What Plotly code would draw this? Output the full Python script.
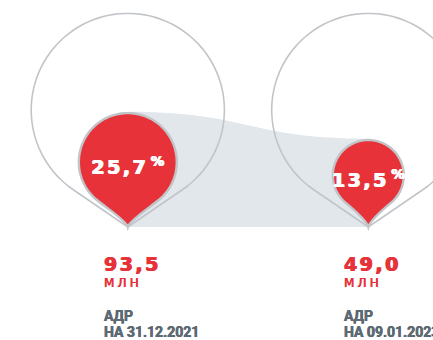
import numpy as np
import plotly.graph_objects as go

# ADR data: two reporting dates, ADR volume (mln) and share of capital (%)
periods = ["31.12.2021", "09.01.2023"]
adr_mln = [93.5, 49.0]
share_pct = [25.7, 13.5]

W, H = 433, 340
X0, STEP = 127.8, 240.5      # horizontal position of the first pin and spacing
TIP_Y = 227                  # common baseline where pin tips meet
R_FULL = 96.6                # radius representing 100 %
BIG_CY = 110                 # centre of the 100 % outline circles
GAP = 16                     # distance between red circle bottom and its tip

RED = "#e7323a"
OUTLINE = "#c1c5c9"
AREA = "#e2e7eb"
DARK = "#5d6973"


def fmt(v):
    return f"{v:.1f}".replace(".", ",")


def wide(s, px, tail=0):
    # spread the glyphs; `tail` is the space left after the last one
    return (f"<span style='letter-spacing:{px}px'>{s[:-1]}</span>"
            f"<span style='letter-spacing:{tail}px'>{s[-1]}</span>")


def heavy(color, w=0.6):
    # faux extra weight: thin horizontal text shadows in the glyph colour
    return f"{w}px 0 0 {color}, -{w}px 0 0 {color}"


def pt(cx, cy, r, a):
    # a: angle from the downward direction, counter-clockwise on screen
    return cx + r * np.sin(a), cy + r * np.cos(a)


def arc(cx, cy, r, a0, a1, n=90):
    return [pt(cx, cy, r, a) for a in np.linspace(a0, a1, n)]


def big_pin_path(cx, cy, r, tip_y):
    d = tip_y - cy
    th = np.arccos(r / d)
    pts = arc(cx, cy, r, th, 2 * np.pi - th)
    s = "M " + " L ".join(f"{x:.2f},{y:.2f}" for x, y in pts)
    s += f" L {cx:.2f},{tip_y:.2f} Z"
    return s


def red_pin_path(cx, cy, r, tip_y, phi=np.radians(40)):
    pts = arc(cx, cy, r, phi, 2 * np.pi - phi)
    s = "M " + " L ".join(f"{x:.2f},{y:.2f}" for x, y in pts)
    k = 0.28 * r
    lx, ly = pt(cx, cy, r, 2 * np.pi - phi)
    rx, ry = pt(cx, cy, r, phi)
    c, sn = np.cos(phi), np.sin(phi)
    s += (f" C {lx + k * c:.2f},{ly + k * sn:.2f} {cx - 2:.2f},{tip_y - 7:.2f} "
          f"{cx:.2f},{tip_y:.2f}")
    s += (f" C {cx + 2:.2f},{tip_y - 7:.2f} {rx - k * c:.2f},{ry + k * sn:.2f} "
          f"{rx:.2f},{ry:.2f} Z")
    return s


xs = [X0 + i * STEP for i in range(len(periods))]
radii = [R_FULL * np.sqrt(p / 100) for p in share_pct]
cys = [TIP_Y - GAP - r for r in radii]
tops = [cy - r - 1.2 for cy, r in zip(cys, radii)]

shapes = []
# shaded band linking the two red pins
band = (f"M {xs[0]:.2f},{tops[0]:.2f} "
        f"C {(xs[0] + xs[1]) / 2:.2f},{tops[0]:.2f} {(xs[0] + xs[1]) / 2:.2f},{tops[1]:.2f} "
        f"{xs[1]:.2f},{tops[1]:.2f} L {xs[1]:.2f},{TIP_Y:.2f} L {xs[0]:.2f},{TIP_Y:.2f} Z")
shapes.append(dict(type="path", path=band, xref="x", yref="y", fillcolor=AREA,
                   line=dict(width=0), layer="below"))
# 100 % outline pins
for cx in xs:
    shapes.append(dict(type="path", path=big_pin_path(cx, BIG_CY, R_FULL, TIP_Y),
                       xref="x", yref="y", fillcolor="rgba(0,0,0,0)",
                       line=dict(color=OUTLINE, width=1.6), layer="below"))
# red share pins
for cx, cy, r in zip(xs, cys, radii):
    shapes.append(dict(type="path", path=red_pin_path(cx, cy, r, TIP_Y),
                       xref="x", yref="y", fillcolor=RED,
                       line=dict(color=OUTLINE, width=2.4), layer="below"))

fig = go.Figure()
fig.add_trace(go.Scatter(
    x=xs, y=[cy + 7 for cy in cys], mode="text",
    text=[f"<b>{wide(fmt(p), 2.5, 5)}<sup>%</sup></b>" for p in share_pct],
    textfont=dict(family="DejaVu Sans", size=19, color="white",
                  shadow=heavy("white")),
    textposition="middle center", hoverinfo="skip", showlegend=False))

annotations = []
for cx, v, d in zip(xs, adr_mln, periods):
    lx = cx - 26
    annotations += [
        dict(x=lx, y=263.5, text=f"<b>{wide(fmt(v), 2.5)}</b>",
             font=dict(family="DejaVu Sans", size=19, color=RED,
                       shadow=heavy(RED))),
        dict(x=lx, y=283, text=wide("МЛН", 3.2),
             font=dict(family="DejaVu Sans", size=12, color=RED,
                       shadow=heavy(RED, 0.3))),
        dict(x=lx, y=316, text="<b>АДР</b>",
             font=dict(family="Roboto", size=14, color=DARK,
                       shadow=heavy(DARK, 0.3))),
        dict(x=lx, y=332, text=f"<b>НА {d}</b>",
             font=dict(family="Roboto", size=14, color=DARK,
                       shadow=heavy(DARK, 0.3))),
    ]
for a in annotations:
    a.update(xref="x", yref="y", xanchor="left", yanchor="middle",
             showarrow=False, align="left")

fig.update_layout(
    width=W, height=H, autosize=False,
    margin=dict(l=0, r=0, t=0, b=0),
    paper_bgcolor="white", plot_bgcolor="white",
    xaxis=dict(range=[0, W], visible=False, fixedrange=True),
    yaxis=dict(range=[H, 0], visible=False, fixedrange=True),
    shapes=shapes, annotations=annotations, showlegend=False,
)

fig.write_html("out.html", config={"displayModeBar": False})
